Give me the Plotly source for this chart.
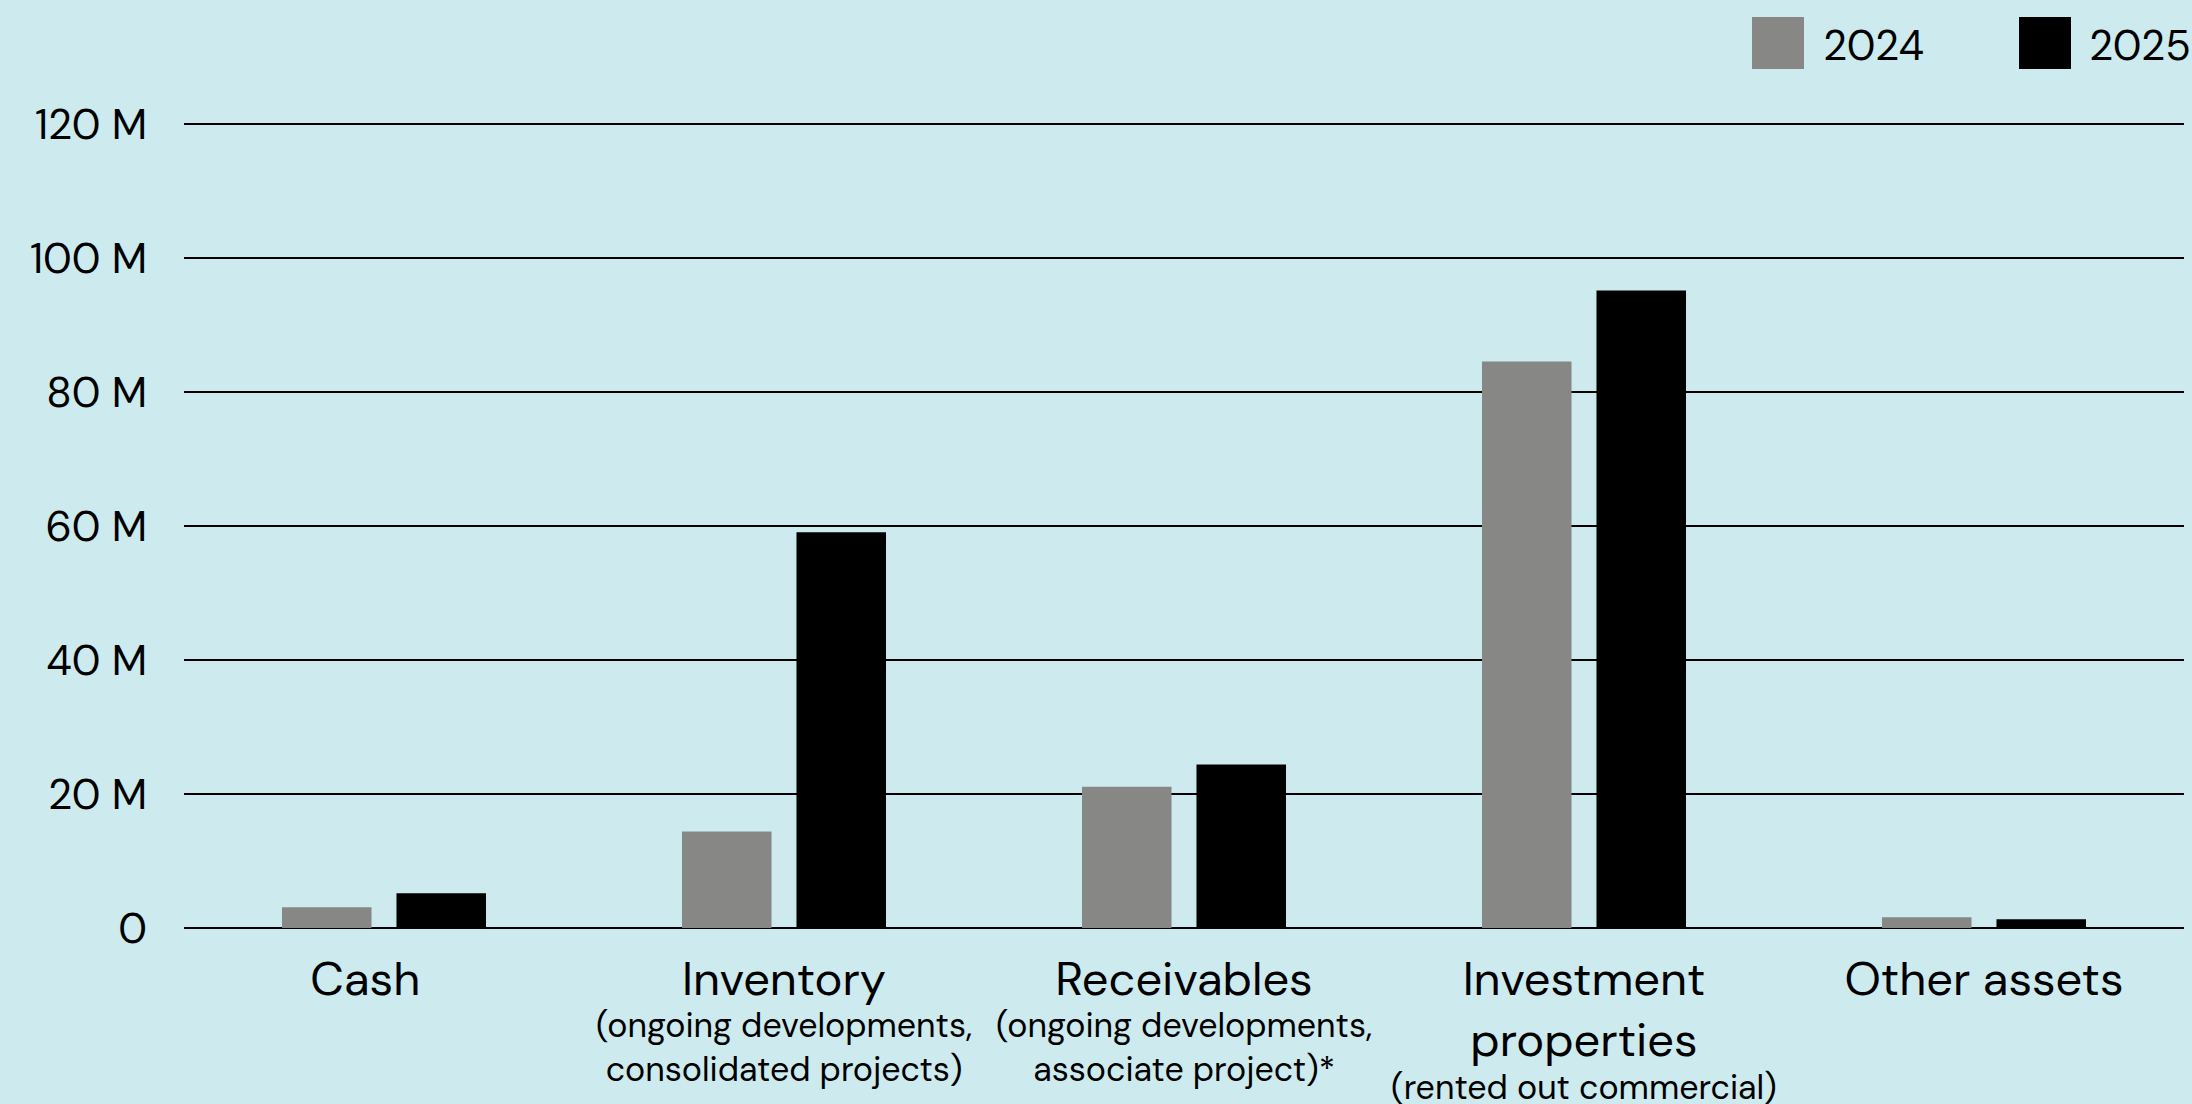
import plotly.graph_objects as go

categories = ["Cash", "Inventory", "Receivables", "Investment properties", "Other assets"]
category_labels = ["Cash&nbsp;&nbsp;&nbsp;", "Inventory", "Receivables",
                   "Investment<br>properties", "Other assets"]
subtitles = ["", "(ongoing developments,<br>consolidated projects)",
             "(ongoing developments,<br>associate project)*",
             "(rented out commercial)", ""]
values_2024 = [3.1e6, 14.4e6, 21.1e6, 84.6e6, 1.6e6]
values_2025 = [5.2e6, 59.1e6, 24.4e6, 95.2e6, 1.3e6]
series_names = ["2024", "2025"]
series_colors = ["#878885", "#000000"]
tick_vals = [0, 20e6, 40e6, 60e6, 80e6, 100e6, 120e6]
tick_text = ["0", "20 M", "40 M", "60 M", "80 M", "100 M", "120 M"]

FONT = "DM Sans, Lato, sans-serif"
BG = "#CDEBEE"

fig = go.Figure()
for name, vals, col in zip(series_names, [values_2024, values_2025], series_colors):
    fig.add_trace(go.Bar(x=categories, y=vals, name=name,
                         marker=dict(color=col, line=dict(width=0)),
                         showlegend=False, hoverinfo="x+y"))

fig.update_layout(
    width=2192, height=1104,
    paper_bgcolor=BG, plot_bgcolor=BG,
    margin=dict(l=184, r=8, t=111, b=176),
    barmode="group", bargap=0.4275, bargroupgap=0.218,
    font=dict(family=FONT, color="#000000"),
)
fig.update_yaxes(range=[0, 122e6], tickvals=tick_vals, ticktext=tick_text,
                 showgrid=True, gridcolor="#000000", gridwidth=1.5,
                 zeroline=True, zerolinecolor="#000000", zerolinewidth=2,
                 tickfont=dict(size=42, family=FONT, color="#000000"),
                 ticks="", ticklabelstandoff=36, showline=False)
fig.update_xaxes(tickvals=categories, ticktext=category_labels,
                 tickfont=dict(size=47, family=FONT, color="#000000"),
                 ticks="", ticklabelstandoff=19, showline=False, showgrid=False)

# category subtitles
for cat, sub in zip(categories, subtitles):
    if not sub:
        continue
    shift = -135 if "Investment" in cat else -73
    fig.add_annotation(x=cat, xref="x", y=0, yref="paper", yanchor="top",
                       yshift=shift, text=sub, showarrow=False,
                       font=dict(size=34, family=FONT, color="#000000"))

# custom legend (large squares)
legend_items = [(0.784, 0.810, 0.8185), (0.9175, 0.9435, 0.9515)]
for (x0, x1, tx), name, col in zip(legend_items, series_names, series_colors):
    fig.add_shape(type="rect", xref="paper", yref="paper",
                  x0=x0, x1=x1, y0=1.0514, y1=1.1151,
                  fillcolor=col, line=dict(width=0))
    fig.add_annotation(x=tx, xref="paper", y=1.0800, yref="paper",
                       xanchor="left", yanchor="middle", text=name,
                       showarrow=False,
                       font=dict(size=42, family=FONT, color="#000000"))

fig.write_html("out.html", config={"displayModeBar": False},
               post_script="document.body.style.margin='0';document.body.style.background='" + BG + "';")
